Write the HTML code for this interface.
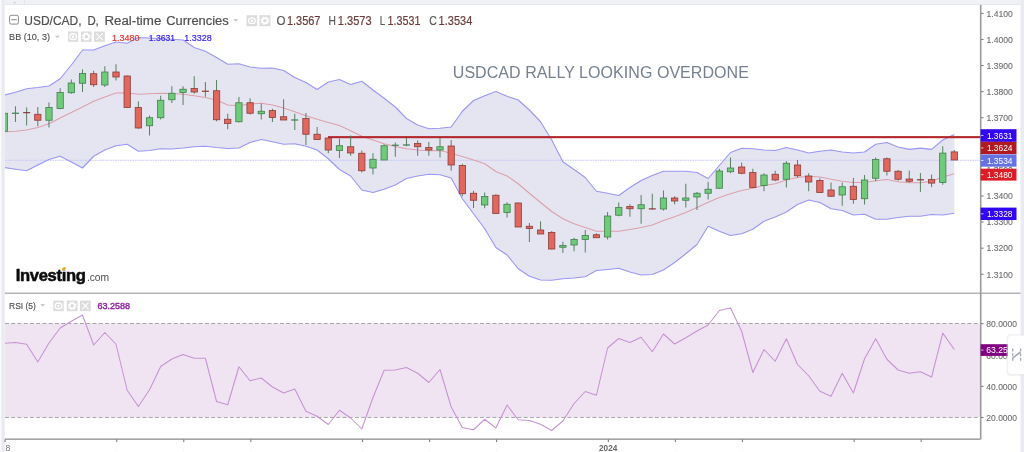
<!DOCTYPE html>
<html><head><meta charset="utf-8"><title>USD/CAD chart</title>
<style>
html,body{margin:0;padding:0;background:#fff;}
body{width:1024px;height:452px;overflow:hidden;position:relative;font-family:"Liberation Sans",sans-serif;}
svg{position:absolute;left:0;top:0;display:block}
text{font-family:"Liberation Sans",sans-serif}
</style></head><body>
<svg width="1024" height="452" viewBox="0 0 1024 452">
<defs>
<clipPath id="pane"><rect x="5" y="5" width="975" height="288"/></clipPath>
<clipPath id="rpane"><rect x="5" y="294" width="975" height="145"/></clipPath>
</defs>
<rect x="0" y="0" width="1024" height="452" fill="#ffffff"/>

<rect x="0" y="0" width="1024" height="4.6" fill="#eff1f6"/>
<rect x="0" y="4.1" width="1024" height="0.8" fill="#e1e4ea"/>
<rect x="1.2" y="0" width="3.6" height="452" fill="#e9ebf1"/>
<rect x="0" y="0" width="1.2" height="452" fill="#fafbfc"/>
<rect x="1020.5" y="0" width="3.5" height="452" fill="#e9ebf1"/>
<path d="M13.2 3.2 L14.6 1.6 L16 3.2 Z" fill="#c9ccd4"/>
<rect x="24.3" y="0" width="0.7" height="4.2" fill="#dfe2e8"/>
<g clip-path="url(#pane)">
<polygon points="4.29,95.00 15.46,92.25 26.63,88.75 37.81,87.50 48.98,86.00 60.15,78.75 71.32,65.00 82.50,50.00 93.67,50.00 104.84,45.75 116.01,42.00 127.19,43.25 138.36,37.50 149.53,38.00 160.70,38.75 171.87,39.25 183.05,40.00 194.22,47.50 205.39,51.25 216.56,57.50 227.74,64.25 238.91,63.75 250.08,67.00 261.25,68.25 272.43,68.00 283.60,70.50 294.77,77.50 305.94,82.50 317.11,89.50 328.29,82.00 339.46,79.50 350.63,84.50 361.80,81.25 372.98,90.00 384.15,98.25 395.32,107.00 406.49,118.50 417.67,125.00 428.84,128.75 440.01,128.25 451.18,127.00 462.35,111.25 473.53,100.50 484.70,95.75 495.87,91.50 507.04,96.25 518.22,100.00 529.39,110.00 540.56,121.75 551.73,140.00 562.90,161.75 574.08,169.50 585.25,177.50 596.42,191.25 607.59,193.25 618.77,195.50 629.94,187.50 641.11,180.50 652.28,175.50 663.46,171.25 674.63,171.25 685.80,171.25 696.97,172.50 708.14,178.50 719.32,165.50 730.49,152.50 741.66,148.25 752.83,148.75 764.01,150.00 775.18,150.50 786.35,147.50 797.52,150.00 808.70,153.00 819.87,151.25 831.04,150.00 842.21,152.00 853.38,153.00 864.56,152.00 875.73,144.25 886.90,142.50 898.07,147.00 909.25,149.40 920.42,148.10 931.59,149.40 942.76,140.00 954.30,134.40 954.30,213.30 942.76,215.00 931.59,214.50 920.42,216.25 909.25,216.25 898.07,217.50 886.90,219.25 875.73,219.25 864.56,214.25 853.38,215.00 842.21,210.50 831.04,208.75 819.87,202.50 808.70,200.00 797.52,204.50 786.35,212.00 775.18,217.00 764.01,221.25 752.83,229.25 741.66,233.75 730.49,235.50 719.32,231.25 708.14,226.25 696.97,244.50 685.80,253.75 674.63,262.50 663.46,270.00 652.28,274.50 641.11,275.00 629.94,272.00 618.77,268.25 607.59,269.50 596.42,270.50 585.25,276.75 574.08,278.00 562.90,278.75 551.73,280.25 540.56,280.00 529.39,276.25 518.22,268.75 507.04,255.00 495.87,247.50 484.70,228.75 473.53,213.75 462.35,198.75 451.18,178.00 440.01,174.75 428.84,174.25 417.67,176.00 406.49,178.50 395.32,185.00 384.15,189.25 372.98,192.50 361.80,190.00 350.63,176.00 339.46,169.50 328.29,158.75 317.11,150.00 305.94,146.25 294.77,143.75 283.60,144.25 272.43,141.75 261.25,139.50 250.08,142.50 238.91,148.00 227.74,148.50 216.56,147.50 205.39,146.25 194.22,146.75 183.05,148.00 171.87,149.00 160.70,148.75 149.53,150.50 138.36,151.25 127.19,144.25 116.01,145.75 104.84,150.00 93.67,156.25 82.50,168.00 71.32,162.00 60.15,156.25 48.98,159.50 37.81,165.00 26.63,170.75 15.46,169.25 4.29,167.50" fill="#e5e5f2"/>
<line x1="5" y1="160.25" x2="980" y2="160.25" stroke="#bfc3f5" stroke-width="0.9" stroke-dasharray="1.7 0.8"/>
<polyline points="4.29,95.00 15.46,92.25 26.63,88.75 37.81,87.50 48.98,86.00 60.15,78.75 71.32,65.00 82.50,50.00 93.67,50.00 104.84,45.75 116.01,42.00 127.19,43.25 138.36,37.50 149.53,38.00 160.70,38.75 171.87,39.25 183.05,40.00 194.22,47.50 205.39,51.25 216.56,57.50 227.74,64.25 238.91,63.75 250.08,67.00 261.25,68.25 272.43,68.00 283.60,70.50 294.77,77.50 305.94,82.50 317.11,89.50 328.29,82.00 339.46,79.50 350.63,84.50 361.80,81.25 372.98,90.00 384.15,98.25 395.32,107.00 406.49,118.50 417.67,125.00 428.84,128.75 440.01,128.25 451.18,127.00 462.35,111.25 473.53,100.50 484.70,95.75 495.87,91.50 507.04,96.25 518.22,100.00 529.39,110.00 540.56,121.75 551.73,140.00 562.90,161.75 574.08,169.50 585.25,177.50 596.42,191.25 607.59,193.25 618.77,195.50 629.94,187.50 641.11,180.50 652.28,175.50 663.46,171.25 674.63,171.25 685.80,171.25 696.97,172.50 708.14,178.50 719.32,165.50 730.49,152.50 741.66,148.25 752.83,148.75 764.01,150.00 775.18,150.50 786.35,147.50 797.52,150.00 808.70,153.00 819.87,151.25 831.04,150.00 842.21,152.00 853.38,153.00 864.56,152.00 875.73,144.25 886.90,142.50 898.07,147.00 909.25,149.40 920.42,148.10 931.59,149.40 942.76,140.00 954.30,134.40" fill="none" stroke="#9a96f3" stroke-width="1.1" stroke-linejoin="round"/>
<polyline points="4.29,167.50 15.46,169.25 26.63,170.75 37.81,165.00 48.98,159.50 60.15,156.25 71.32,162.00 82.50,168.00 93.67,156.25 104.84,150.00 116.01,145.75 127.19,144.25 138.36,151.25 149.53,150.50 160.70,148.75 171.87,149.00 183.05,148.00 194.22,146.75 205.39,146.25 216.56,147.50 227.74,148.50 238.91,148.00 250.08,142.50 261.25,139.50 272.43,141.75 283.60,144.25 294.77,143.75 305.94,146.25 317.11,150.00 328.29,158.75 339.46,169.50 350.63,176.00 361.80,190.00 372.98,192.50 384.15,189.25 395.32,185.00 406.49,178.50 417.67,176.00 428.84,174.25 440.01,174.75 451.18,178.00 462.35,198.75 473.53,213.75 484.70,228.75 495.87,247.50 507.04,255.00 518.22,268.75 529.39,276.25 540.56,280.00 551.73,280.25 562.90,278.75 574.08,278.00 585.25,276.75 596.42,270.50 607.59,269.50 618.77,268.25 629.94,272.00 641.11,275.00 652.28,274.50 663.46,270.00 674.63,262.50 685.80,253.75 696.97,244.50 708.14,226.25 719.32,231.25 730.49,235.50 741.66,233.75 752.83,229.25 764.01,221.25 775.18,217.00 786.35,212.00 797.52,204.50 808.70,200.00 819.87,202.50 831.04,208.75 842.21,210.50 853.38,215.00 864.56,214.25 875.73,219.25 886.90,219.25 898.07,217.50 909.25,216.25 920.42,216.25 931.59,214.50 942.76,215.00 954.30,213.30" fill="none" stroke="#9a96f3" stroke-width="1.1" stroke-linejoin="round"/>
<polyline points="4.29,131.75 15.46,131.25 26.63,130.00 37.81,127.50 48.98,123.75 60.15,118.00 71.32,112.50 82.50,107.00 93.67,101.25 104.84,97.00 116.01,93.00 127.19,92.75 138.36,94.25 149.53,93.75 160.70,93.25 171.87,93.50 183.05,94.25 194.22,95.75 205.39,97.50 216.56,100.00 227.74,105.00 238.91,105.75 250.08,104.00 261.25,103.25 272.43,105.00 283.60,108.00 294.77,111.75 305.94,115.75 317.11,119.25 328.29,122.50 339.46,125.50 350.63,130.75 361.80,136.25 372.98,140.00 384.15,143.75 395.32,146.50 406.49,148.75 417.67,150.00 428.84,150.75 440.01,150.50 451.18,153.25 462.35,156.50 473.53,160.00 484.70,163.75 495.87,171.50 507.04,176.00 518.22,183.75 529.39,193.25 540.56,202.50 551.73,211.50 562.90,218.75 574.08,223.75 585.25,227.50 596.42,231.25 607.59,231.25 618.77,231.25 629.94,229.50 641.11,227.50 652.28,225.00 663.46,220.50 674.63,216.75 685.80,212.50 696.97,207.50 708.14,202.25 719.32,197.50 730.49,193.75 741.66,190.50 752.83,188.25 764.01,185.50 775.18,183.75 786.35,180.00 797.52,177.50 808.70,176.25 819.87,177.00 831.04,179.25 842.21,181.25 853.38,182.50 864.56,182.50 875.73,180.75 886.90,179.50 898.07,181.75 909.25,182.75 920.42,182.75 931.59,181.25 942.76,177.00 954.30,173.75" fill="none" stroke="#dda0ab" stroke-width="1.1" stroke-linejoin="round"/>
<rect x="328" y="136.1" width="652.5" height="2.1" fill="#b3262b"/>
<line x1="4.29" y1="112.00" x2="4.29" y2="132.00" stroke="#4f7a57" stroke-width="0.95"/>
<rect x="1.14" y="113.25" width="6.3" height="18.00" fill="#6fcb7a" stroke="#3f7f4b" stroke-width="0.8"/>
<line x1="15.46" y1="106.25" x2="15.46" y2="122.00" stroke="#4f7a57" stroke-width="0.95"/>
<rect x="11.96" y="112.65" width="7" height="1.2" fill="#3f7f4b"/>
<line x1="26.63" y1="107.50" x2="26.63" y2="125.50" stroke="#4f7a57" stroke-width="0.95"/>
<rect x="23.13" y="112.03" width="7" height="1.2" fill="#8c3b36"/>
<line x1="37.81" y1="107.00" x2="37.81" y2="126.25" stroke="#4f7a57" stroke-width="0.95"/>
<rect x="34.66" y="114.25" width="6.3" height="6.00" fill="#e0685f" stroke="#8c3b36" stroke-width="0.8"/>
<line x1="48.98" y1="102.50" x2="48.98" y2="127.50" stroke="#4f7a57" stroke-width="0.95"/>
<rect x="45.83" y="107.50" width="6.3" height="12.75" fill="#6fcb7a" stroke="#3f7f4b" stroke-width="0.8"/>
<line x1="60.15" y1="88.25" x2="60.15" y2="109.25" stroke="#4f7a57" stroke-width="0.95"/>
<rect x="57.00" y="92.50" width="6.3" height="16.00" fill="#6fcb7a" stroke="#3f7f4b" stroke-width="0.8"/>
<line x1="71.32" y1="79.50" x2="71.32" y2="93.75" stroke="#4f7a57" stroke-width="0.95"/>
<rect x="68.17" y="83.00" width="6.3" height="9.75" fill="#6fcb7a" stroke="#3f7f4b" stroke-width="0.8"/>
<line x1="82.50" y1="69.25" x2="82.50" y2="92.00" stroke="#4f7a57" stroke-width="0.95"/>
<rect x="79.35" y="73.50" width="6.3" height="9.75" fill="#6fcb7a" stroke="#3f7f4b" stroke-width="0.8"/>
<line x1="93.67" y1="70.75" x2="93.67" y2="87.00" stroke="#4f7a57" stroke-width="0.95"/>
<rect x="90.52" y="73.75" width="6.3" height="11.00" fill="#e0685f" stroke="#8c3b36" stroke-width="0.8"/>
<line x1="104.84" y1="66.25" x2="104.84" y2="87.00" stroke="#4f7a57" stroke-width="0.95"/>
<rect x="101.69" y="72.00" width="6.3" height="13.00" fill="#6fcb7a" stroke="#3f7f4b" stroke-width="0.8"/>
<line x1="116.01" y1="64.25" x2="116.01" y2="80.50" stroke="#4f7a57" stroke-width="0.95"/>
<rect x="112.86" y="72.00" width="6.3" height="5.00" fill="#e0685f" stroke="#8c3b36" stroke-width="0.8"/>
<line x1="127.19" y1="75.50" x2="127.19" y2="108.00" stroke="#4f7a57" stroke-width="0.95"/>
<rect x="124.04" y="76.00" width="6.3" height="31.50" fill="#e0685f" stroke="#8c3b36" stroke-width="0.8"/>
<line x1="138.36" y1="101.25" x2="138.36" y2="128.75" stroke="#4f7a57" stroke-width="0.95"/>
<rect x="135.21" y="107.50" width="6.3" height="20.50" fill="#e0685f" stroke="#8c3b36" stroke-width="0.8"/>
<line x1="149.53" y1="115.50" x2="149.53" y2="135.50" stroke="#4f7a57" stroke-width="0.95"/>
<rect x="146.38" y="117.75" width="6.3" height="8.00" fill="#6fcb7a" stroke="#3f7f4b" stroke-width="0.8"/>
<line x1="160.70" y1="95.75" x2="160.70" y2="119.50" stroke="#4f7a57" stroke-width="0.95"/>
<rect x="157.55" y="100.25" width="6.3" height="17.50" fill="#6fcb7a" stroke="#3f7f4b" stroke-width="0.8"/>
<line x1="171.87" y1="86.25" x2="171.87" y2="103.00" stroke="#4f7a57" stroke-width="0.95"/>
<rect x="168.72" y="93.25" width="6.3" height="6.50" fill="#6fcb7a" stroke="#3f7f4b" stroke-width="0.8"/>
<line x1="183.05" y1="86.25" x2="183.05" y2="105.00" stroke="#4f7a57" stroke-width="0.95"/>
<rect x="179.90" y="89.25" width="6.3" height="3.25" fill="#6fcb7a" stroke="#3f7f4b" stroke-width="0.8"/>
<line x1="194.22" y1="76.25" x2="194.22" y2="93.75" stroke="#4f7a57" stroke-width="0.95"/>
<rect x="191.07" y="88.50" width="6.3" height="3.50" fill="#e0685f" stroke="#8c3b36" stroke-width="0.8"/>
<line x1="205.39" y1="82.00" x2="205.39" y2="96.75" stroke="#4f7a57" stroke-width="0.95"/>
<rect x="201.89" y="90.65" width="7" height="1.2" fill="#8c3b36"/>
<line x1="216.56" y1="80.00" x2="216.56" y2="121.25" stroke="#4f7a57" stroke-width="0.95"/>
<rect x="213.41" y="90.75" width="6.3" height="29.00" fill="#e0685f" stroke="#8c3b36" stroke-width="0.8"/>
<line x1="227.74" y1="113.75" x2="227.74" y2="129.25" stroke="#4f7a57" stroke-width="0.95"/>
<rect x="224.59" y="119.25" width="6.3" height="4.25" fill="#e0685f" stroke="#8c3b36" stroke-width="0.8"/>
<line x1="238.91" y1="97.00" x2="238.91" y2="122.50" stroke="#4f7a57" stroke-width="0.95"/>
<rect x="235.76" y="102.75" width="6.3" height="19.00" fill="#6fcb7a" stroke="#3f7f4b" stroke-width="0.8"/>
<line x1="250.08" y1="98.25" x2="250.08" y2="114.50" stroke="#4f7a57" stroke-width="0.95"/>
<rect x="246.93" y="102.75" width="6.3" height="10.50" fill="#e0685f" stroke="#8c3b36" stroke-width="0.8"/>
<line x1="261.25" y1="103.75" x2="261.25" y2="119.50" stroke="#4f7a57" stroke-width="0.95"/>
<rect x="258.10" y="111.25" width="6.3" height="2.50" fill="#6fcb7a" stroke="#3f7f4b" stroke-width="0.8"/>
<line x1="272.43" y1="108.75" x2="272.43" y2="122.00" stroke="#4f7a57" stroke-width="0.95"/>
<rect x="269.28" y="110.50" width="6.3" height="7.00" fill="#e0685f" stroke="#8c3b36" stroke-width="0.8"/>
<line x1="283.60" y1="99.25" x2="283.60" y2="120.00" stroke="#4f7a57" stroke-width="0.95"/>
<rect x="280.45" y="116.75" width="6.3" height="3.25" fill="#e0685f" stroke="#8c3b36" stroke-width="0.8"/>
<line x1="294.77" y1="113.75" x2="294.77" y2="130.00" stroke="#4f7a57" stroke-width="0.95"/>
<rect x="291.27" y="119.40" width="7" height="1.2" fill="#3f7f4b"/>
<line x1="305.94" y1="113.00" x2="305.94" y2="145.00" stroke="#4f7a57" stroke-width="0.95"/>
<rect x="302.79" y="118.50" width="6.3" height="15.75" fill="#e0685f" stroke="#8c3b36" stroke-width="0.8"/>
<line x1="317.11" y1="127.00" x2="317.11" y2="139.50" stroke="#4f7a57" stroke-width="0.95"/>
<rect x="313.96" y="134.25" width="6.3" height="5.25" fill="#e0685f" stroke="#8c3b36" stroke-width="0.8"/>
<line x1="328.29" y1="138.00" x2="328.29" y2="153.25" stroke="#4f7a57" stroke-width="0.95"/>
<rect x="325.14" y="138.00" width="6.3" height="12.00" fill="#e0685f" stroke="#8c3b36" stroke-width="0.8"/>
<line x1="339.46" y1="138.75" x2="339.46" y2="158.00" stroke="#4f7a57" stroke-width="0.95"/>
<rect x="336.31" y="145.75" width="6.3" height="4.75" fill="#6fcb7a" stroke="#3f7f4b" stroke-width="0.8"/>
<line x1="350.63" y1="135.50" x2="350.63" y2="155.75" stroke="#4f7a57" stroke-width="0.95"/>
<rect x="347.48" y="146.75" width="6.3" height="6.25" fill="#e0685f" stroke="#8c3b36" stroke-width="0.8"/>
<line x1="361.80" y1="150.50" x2="361.80" y2="172.50" stroke="#4f7a57" stroke-width="0.95"/>
<rect x="358.65" y="153.25" width="6.3" height="17.50" fill="#e0685f" stroke="#8c3b36" stroke-width="0.8"/>
<line x1="372.98" y1="153.25" x2="372.98" y2="174.50" stroke="#4f7a57" stroke-width="0.95"/>
<rect x="369.83" y="159.25" width="6.3" height="8.75" fill="#6fcb7a" stroke="#3f7f4b" stroke-width="0.8"/>
<line x1="384.15" y1="144.25" x2="384.15" y2="160.00" stroke="#4f7a57" stroke-width="0.95"/>
<rect x="381.00" y="145.75" width="6.3" height="14.25" fill="#6fcb7a" stroke="#3f7f4b" stroke-width="0.8"/>
<line x1="395.32" y1="142.50" x2="395.32" y2="156.75" stroke="#4f7a57" stroke-width="0.95"/>
<rect x="391.82" y="144.65" width="7" height="1.2" fill="#3f7f4b"/>
<line x1="406.49" y1="138.00" x2="406.49" y2="146.25" stroke="#4f7a57" stroke-width="0.95"/>
<rect x="402.99" y="144.40" width="7" height="1.2" fill="#3f7f4b"/>
<line x1="417.67" y1="140.50" x2="417.67" y2="155.75" stroke="#4f7a57" stroke-width="0.95"/>
<rect x="414.52" y="143.50" width="6.3" height="3.25" fill="#e0685f" stroke="#8c3b36" stroke-width="0.8"/>
<line x1="428.84" y1="142.00" x2="428.84" y2="155.75" stroke="#4f7a57" stroke-width="0.95"/>
<rect x="425.69" y="147.50" width="6.3" height="2.50" fill="#e0685f" stroke="#8c3b36" stroke-width="0.8"/>
<line x1="440.01" y1="138.00" x2="440.01" y2="157.50" stroke="#4f7a57" stroke-width="0.95"/>
<rect x="436.86" y="146.75" width="6.3" height="3.25" fill="#6fcb7a" stroke="#3f7f4b" stroke-width="0.8"/>
<line x1="451.18" y1="140.00" x2="451.18" y2="170.75" stroke="#4f7a57" stroke-width="0.95"/>
<rect x="448.03" y="146.00" width="6.3" height="19.00" fill="#e0685f" stroke="#8c3b36" stroke-width="0.8"/>
<line x1="462.35" y1="163.75" x2="462.35" y2="196.25" stroke="#4f7a57" stroke-width="0.95"/>
<rect x="459.20" y="165.50" width="6.3" height="28.25" fill="#e0685f" stroke="#8c3b36" stroke-width="0.8"/>
<line x1="473.53" y1="190.75" x2="473.53" y2="208.00" stroke="#4f7a57" stroke-width="0.95"/>
<rect x="470.38" y="193.25" width="6.3" height="7.00" fill="#e0685f" stroke="#8c3b36" stroke-width="0.8"/>
<line x1="484.70" y1="192.50" x2="484.70" y2="208.25" stroke="#4f7a57" stroke-width="0.95"/>
<rect x="481.55" y="196.50" width="6.3" height="8.50" fill="#6fcb7a" stroke="#3f7f4b" stroke-width="0.8"/>
<line x1="495.87" y1="194.25" x2="495.87" y2="213.50" stroke="#4f7a57" stroke-width="0.95"/>
<rect x="492.72" y="195.25" width="6.3" height="18.25" fill="#e0685f" stroke="#8c3b36" stroke-width="0.8"/>
<line x1="507.04" y1="202.25" x2="507.04" y2="217.50" stroke="#4f7a57" stroke-width="0.95"/>
<rect x="503.89" y="204.25" width="6.3" height="8.25" fill="#6fcb7a" stroke="#3f7f4b" stroke-width="0.8"/>
<line x1="518.22" y1="202.50" x2="518.22" y2="227.00" stroke="#4f7a57" stroke-width="0.95"/>
<rect x="515.07" y="203.00" width="6.3" height="24.00" fill="#e0685f" stroke="#8c3b36" stroke-width="0.8"/>
<line x1="529.39" y1="223.00" x2="529.39" y2="242.00" stroke="#4f7a57" stroke-width="0.95"/>
<rect x="526.24" y="226.25" width="6.3" height="2.25" fill="#e0685f" stroke="#8c3b36" stroke-width="0.8"/>
<line x1="540.56" y1="221.25" x2="540.56" y2="234.00" stroke="#4f7a57" stroke-width="0.95"/>
<rect x="537.41" y="230.00" width="6.3" height="4.00" fill="#e0685f" stroke="#8c3b36" stroke-width="0.8"/>
<line x1="551.73" y1="231.00" x2="551.73" y2="249.50" stroke="#4f7a57" stroke-width="0.95"/>
<rect x="548.58" y="232.50" width="6.3" height="16.50" fill="#e0685f" stroke="#8c3b36" stroke-width="0.8"/>
<line x1="562.90" y1="241.75" x2="562.90" y2="253.00" stroke="#4f7a57" stroke-width="0.95"/>
<rect x="559.75" y="245.50" width="6.3" height="1.75" fill="#6fcb7a" stroke="#3f7f4b" stroke-width="0.8"/>
<line x1="574.08" y1="237.75" x2="574.08" y2="251.25" stroke="#4f7a57" stroke-width="0.95"/>
<rect x="570.93" y="239.50" width="6.3" height="5.50" fill="#6fcb7a" stroke="#3f7f4b" stroke-width="0.8"/>
<line x1="585.25" y1="230.00" x2="585.25" y2="252.50" stroke="#4f7a57" stroke-width="0.95"/>
<rect x="582.10" y="235.50" width="6.3" height="4.00" fill="#6fcb7a" stroke="#3f7f4b" stroke-width="0.8"/>
<line x1="596.42" y1="233.25" x2="596.42" y2="237.75" stroke="#4f7a57" stroke-width="0.95"/>
<rect x="593.27" y="234.75" width="6.3" height="3.00" fill="#e0685f" stroke="#8c3b36" stroke-width="0.8"/>
<line x1="607.59" y1="212.00" x2="607.59" y2="239.50" stroke="#4f7a57" stroke-width="0.95"/>
<rect x="604.44" y="216.00" width="6.3" height="21.00" fill="#6fcb7a" stroke="#3f7f4b" stroke-width="0.8"/>
<line x1="618.77" y1="202.50" x2="618.77" y2="216.25" stroke="#4f7a57" stroke-width="0.95"/>
<rect x="615.62" y="207.50" width="6.3" height="7.75" fill="#6fcb7a" stroke="#3f7f4b" stroke-width="0.8"/>
<line x1="629.94" y1="204.25" x2="629.94" y2="216.75" stroke="#4f7a57" stroke-width="0.95"/>
<rect x="626.79" y="206.50" width="6.3" height="2.25" fill="#e0685f" stroke="#8c3b36" stroke-width="0.8"/>
<line x1="641.11" y1="195.00" x2="641.11" y2="223.75" stroke="#4f7a57" stroke-width="0.95"/>
<rect x="637.96" y="204.75" width="6.3" height="4.00" fill="#6fcb7a" stroke="#3f7f4b" stroke-width="0.8"/>
<line x1="652.28" y1="193.75" x2="652.28" y2="209.50" stroke="#4f7a57" stroke-width="0.95"/>
<rect x="648.78" y="208.28" width="7" height="1.2" fill="#8c3b36"/>
<line x1="663.46" y1="190.50" x2="663.46" y2="210.50" stroke="#4f7a57" stroke-width="0.95"/>
<rect x="660.31" y="198.00" width="6.3" height="11.00" fill="#6fcb7a" stroke="#3f7f4b" stroke-width="0.8"/>
<line x1="674.63" y1="196.25" x2="674.63" y2="204.25" stroke="#4f7a57" stroke-width="0.95"/>
<rect x="671.48" y="198.00" width="6.3" height="3.00" fill="#e0685f" stroke="#8c3b36" stroke-width="0.8"/>
<line x1="685.80" y1="183.75" x2="685.80" y2="207.50" stroke="#4f7a57" stroke-width="0.95"/>
<rect x="682.65" y="198.00" width="6.3" height="2.25" fill="#6fcb7a" stroke="#3f7f4b" stroke-width="0.8"/>
<line x1="696.97" y1="192.00" x2="696.97" y2="210.00" stroke="#4f7a57" stroke-width="0.95"/>
<rect x="693.82" y="193.25" width="6.3" height="3.75" fill="#6fcb7a" stroke="#3f7f4b" stroke-width="0.8"/>
<line x1="708.14" y1="181.75" x2="708.14" y2="199.50" stroke="#4f7a57" stroke-width="0.95"/>
<rect x="704.99" y="189.25" width="6.3" height="4.00" fill="#6fcb7a" stroke="#3f7f4b" stroke-width="0.8"/>
<line x1="719.32" y1="168.75" x2="719.32" y2="188.75" stroke="#4f7a57" stroke-width="0.95"/>
<rect x="716.17" y="171.00" width="6.3" height="17.25" fill="#6fcb7a" stroke="#3f7f4b" stroke-width="0.8"/>
<line x1="730.49" y1="157.50" x2="730.49" y2="173.25" stroke="#4f7a57" stroke-width="0.95"/>
<rect x="727.34" y="168.00" width="6.3" height="3.75" fill="#6fcb7a" stroke="#3f7f4b" stroke-width="0.8"/>
<line x1="741.66" y1="162.50" x2="741.66" y2="174.25" stroke="#4f7a57" stroke-width="0.95"/>
<rect x="738.51" y="167.00" width="6.3" height="6.25" fill="#e0685f" stroke="#8c3b36" stroke-width="0.8"/>
<line x1="752.83" y1="168.75" x2="752.83" y2="188.00" stroke="#4f7a57" stroke-width="0.95"/>
<rect x="749.68" y="172.50" width="6.3" height="15.00" fill="#e0685f" stroke="#8c3b36" stroke-width="0.8"/>
<line x1="764.01" y1="173.25" x2="764.01" y2="191.25" stroke="#4f7a57" stroke-width="0.95"/>
<rect x="760.86" y="175.00" width="6.3" height="10.50" fill="#6fcb7a" stroke="#3f7f4b" stroke-width="0.8"/>
<line x1="775.18" y1="170.75" x2="775.18" y2="181.25" stroke="#4f7a57" stroke-width="0.95"/>
<rect x="772.03" y="174.25" width="6.3" height="5.75" fill="#e0685f" stroke="#8c3b36" stroke-width="0.8"/>
<line x1="786.35" y1="161.25" x2="786.35" y2="187.50" stroke="#4f7a57" stroke-width="0.95"/>
<rect x="783.20" y="163.25" width="6.3" height="16.00" fill="#6fcb7a" stroke="#3f7f4b" stroke-width="0.8"/>
<line x1="797.52" y1="160.00" x2="797.52" y2="177.50" stroke="#4f7a57" stroke-width="0.95"/>
<rect x="794.37" y="165.00" width="6.3" height="10.75" fill="#e0685f" stroke="#8c3b36" stroke-width="0.8"/>
<line x1="808.70" y1="173.25" x2="808.70" y2="191.25" stroke="#4f7a57" stroke-width="0.95"/>
<rect x="805.55" y="176.00" width="6.3" height="6.00" fill="#e0685f" stroke="#8c3b36" stroke-width="0.8"/>
<line x1="819.87" y1="178.25" x2="819.87" y2="192.50" stroke="#4f7a57" stroke-width="0.95"/>
<rect x="816.72" y="180.50" width="6.3" height="12.00" fill="#e0685f" stroke="#8c3b36" stroke-width="0.8"/>
<line x1="831.04" y1="182.50" x2="831.04" y2="196.75" stroke="#4f7a57" stroke-width="0.95"/>
<rect x="827.89" y="190.00" width="6.3" height="6.25" fill="#e0685f" stroke="#8c3b36" stroke-width="0.8"/>
<line x1="842.21" y1="182.50" x2="842.21" y2="205.75" stroke="#4f7a57" stroke-width="0.95"/>
<rect x="839.06" y="186.75" width="6.3" height="8.25" fill="#6fcb7a" stroke="#3f7f4b" stroke-width="0.8"/>
<line x1="853.38" y1="178.00" x2="853.38" y2="203.75" stroke="#4f7a57" stroke-width="0.95"/>
<rect x="850.23" y="186.25" width="6.3" height="13.25" fill="#e0685f" stroke="#8c3b36" stroke-width="0.8"/>
<line x1="864.56" y1="175.00" x2="864.56" y2="204.50" stroke="#4f7a57" stroke-width="0.95"/>
<rect x="861.41" y="180.00" width="6.3" height="18.75" fill="#6fcb7a" stroke="#3f7f4b" stroke-width="0.8"/>
<line x1="875.73" y1="157.50" x2="875.73" y2="181.25" stroke="#4f7a57" stroke-width="0.95"/>
<rect x="872.58" y="159.50" width="6.3" height="18.75" fill="#6fcb7a" stroke="#3f7f4b" stroke-width="0.8"/>
<line x1="886.90" y1="157.50" x2="886.90" y2="175.50" stroke="#4f7a57" stroke-width="0.95"/>
<rect x="883.75" y="158.75" width="6.3" height="12.50" fill="#e0685f" stroke="#8c3b36" stroke-width="0.8"/>
<line x1="898.07" y1="170.00" x2="898.07" y2="180.75" stroke="#4f7a57" stroke-width="0.95"/>
<rect x="894.92" y="171.25" width="6.3" height="8.00" fill="#e0685f" stroke="#8c3b36" stroke-width="0.8"/>
<line x1="909.25" y1="170.60" x2="909.25" y2="182.75" stroke="#4f7a57" stroke-width="0.95"/>
<rect x="906.10" y="179.00" width="6.3" height="2.25" fill="#e0685f" stroke="#8c3b36" stroke-width="0.8"/>
<line x1="920.42" y1="173.10" x2="920.42" y2="191.90" stroke="#4f7a57" stroke-width="0.95"/>
<rect x="916.92" y="179.20" width="7" height="1.2" fill="#8c3b36"/>
<line x1="931.59" y1="174.60" x2="931.59" y2="187.10" stroke="#4f7a57" stroke-width="0.95"/>
<rect x="928.44" y="179.60" width="6.3" height="3.50" fill="#e0685f" stroke="#8c3b36" stroke-width="0.8"/>
<line x1="942.76" y1="146.25" x2="942.76" y2="184.75" stroke="#4f7a57" stroke-width="0.95"/>
<rect x="939.61" y="153.10" width="6.3" height="29.40" fill="#6fcb7a" stroke="#3f7f4b" stroke-width="0.8"/>
<line x1="954.30" y1="150.00" x2="954.30" y2="160.00" stroke="#4f7a57" stroke-width="0.95"/>
<rect x="951.15" y="151.90" width="6.3" height="8.10" fill="#e0685f" stroke="#8c3b36" stroke-width="0.8"/>
</g>
<g clip-path="url(#rpane)">
<rect x="5" y="323.5" width="975" height="93.9" fill="#f0e4f3"/>
<line x1="5" y1="323.5" x2="980" y2="323.5" stroke="#a6a6a6" stroke-width="1" stroke-dasharray="3.9 2.35"/>
<line x1="5" y1="417.45" x2="980" y2="417.45" stroke="#a6a6a6" stroke-width="1" stroke-dasharray="3.9 2.35"/>
<polyline points="4.29,343.25 15.46,342.50 26.63,344.25 37.81,362.00 48.98,343.00 60.15,328.00 71.32,321.25 82.50,315.00 93.67,345.00 104.84,332.50 116.01,344.25 127.19,390.25 138.36,406.50 149.53,389.75 160.70,366.50 171.87,359.00 183.05,354.50 194.22,358.25 205.39,358.25 216.56,401.50 227.74,404.75 238.91,366.75 250.08,380.75 261.25,378.00 272.43,387.00 283.60,393.00 294.77,389.00 305.94,411.25 317.11,416.25 328.29,424.50 339.46,410.25 350.63,418.00 361.80,429.00 372.98,397.50 384.15,370.25 395.32,370.00 406.49,367.50 417.67,373.25 428.84,382.50 440.01,369.50 451.18,407.00 462.35,427.60 473.53,429.75 484.70,419.25 495.87,428.00 507.04,405.00 518.22,419.75 529.39,420.50 540.56,424.25 551.73,430.50 562.90,421.00 574.08,403.50 585.25,391.50 596.42,395.25 607.59,348.00 618.77,338.50 629.94,342.50 641.11,337.25 652.28,351.75 663.46,334.00 674.63,344.00 685.80,337.75 696.97,331.00 708.14,325.00 719.32,310.50 730.49,308.00 741.66,331.25 752.83,372.50 764.01,349.50 775.18,361.25 786.35,338.75 797.52,364.50 808.70,375.75 819.87,391.25 831.04,396.25 842.21,373.25 853.38,393.00 864.56,358.75 875.73,338.75 886.90,359.25 898.07,370.00 909.25,373.25 920.42,371.75 931.59,377.00 942.76,333.10 954.30,349.50" fill="none" stroke="#c792d3" stroke-width="1.05" stroke-linejoin="round"/>
</g>
<rect x="5" y="292.6" width="1015.5" height="1.2" fill="#a3a3a3"/>
<rect x="979.9" y="5" width="1.6" height="434.5" fill="#9a9a9a"/>
<rect x="5" y="438.5" width="975" height="1.3" fill="#8e8e8e"/>
<rect x="4.54" y="439.5" width="1" height="2.6" fill="#757575"/>
<rect x="4.59" y="449.6" width="0.8" height="0.8" fill="#d0d0d0"/>
<rect x="116.26" y="439.5" width="1" height="2.6" fill="#757575"/>
<rect x="116.31" y="449.6" width="0.8" height="0.8" fill="#d0d0d0"/>
<rect x="183.30" y="439.5" width="1" height="2.6" fill="#757575"/>
<rect x="183.35" y="449.6" width="0.8" height="0.8" fill="#d0d0d0"/>
<rect x="250.33" y="439.5" width="1" height="2.6" fill="#757575"/>
<rect x="250.38" y="449.6" width="0.8" height="0.8" fill="#d0d0d0"/>
<rect x="362.05" y="439.5" width="1" height="2.6" fill="#757575"/>
<rect x="362.10" y="449.6" width="0.8" height="0.8" fill="#d0d0d0"/>
<rect x="429.09" y="439.5" width="1" height="2.6" fill="#757575"/>
<rect x="429.14" y="449.6" width="0.8" height="0.8" fill="#d0d0d0"/>
<rect x="496.12" y="439.5" width="1" height="2.6" fill="#757575"/>
<rect x="496.17" y="449.6" width="0.8" height="0.8" fill="#d0d0d0"/>
<rect x="607.84" y="439.5" width="1" height="2.6" fill="#757575"/>
<rect x="607.89" y="449.6" width="0.8" height="0.8" fill="#d0d0d0"/>
<rect x="674.88" y="439.5" width="1" height="2.6" fill="#757575"/>
<rect x="674.93" y="449.6" width="0.8" height="0.8" fill="#d0d0d0"/>
<rect x="741.91" y="439.5" width="1" height="2.6" fill="#757575"/>
<rect x="741.96" y="449.6" width="0.8" height="0.8" fill="#d0d0d0"/>
<rect x="853.63" y="439.5" width="1" height="2.6" fill="#757575"/>
<rect x="853.68" y="449.6" width="0.8" height="0.8" fill="#d0d0d0"/>
<rect x="920.67" y="439.5" width="1" height="2.6" fill="#757575"/>
<rect x="920.72" y="449.6" width="0.8" height="0.8" fill="#d0d0d0"/>
<text x="5.4" y="450.8" font-size="8.6" fill="#777">8</text>
<text x="599" y="450.8" font-size="8.3" font-weight="bold" fill="#666" textLength="18.3" lengthAdjust="spacingAndGlyphs">2024</text>
<rect x="981.2" y="12.85" width="2.3" height="1" fill="#707070"/>
<text x="986.6" y="16.60" font-size="8.6" fill="#707070" stroke="#707070" stroke-width="0.12" textLength="26.3" lengthAdjust="spacingAndGlyphs">1.4100</text>
<rect x="981.2" y="38.94" width="2.3" height="1" fill="#707070"/>
<text x="986.6" y="42.69" font-size="8.6" fill="#707070" stroke="#707070" stroke-width="0.12" textLength="26.3" lengthAdjust="spacingAndGlyphs">1.4000</text>
<rect x="981.2" y="65.03" width="2.3" height="1" fill="#707070"/>
<text x="986.6" y="68.78" font-size="8.6" fill="#707070" stroke="#707070" stroke-width="0.12" textLength="26.3" lengthAdjust="spacingAndGlyphs">1.3900</text>
<rect x="981.2" y="91.12" width="2.3" height="1" fill="#707070"/>
<text x="986.6" y="94.87" font-size="8.6" fill="#707070" stroke="#707070" stroke-width="0.12" textLength="26.3" lengthAdjust="spacingAndGlyphs">1.3800</text>
<rect x="981.2" y="117.21" width="2.3" height="1" fill="#707070"/>
<text x="986.6" y="120.96" font-size="8.6" fill="#707070" stroke="#707070" stroke-width="0.12" textLength="26.3" lengthAdjust="spacingAndGlyphs">1.3700</text>
<rect x="981.2" y="143.30" width="2.3" height="1" fill="#707070"/>
<text x="986.6" y="147.05" font-size="8.6" fill="#707070" stroke="#707070" stroke-width="0.12" textLength="26.3" lengthAdjust="spacingAndGlyphs">1.3600</text>
<rect x="981.2" y="169.39" width="2.3" height="1" fill="#707070"/>
<text x="986.6" y="173.14" font-size="8.6" fill="#707070" stroke="#707070" stroke-width="0.12" textLength="26.3" lengthAdjust="spacingAndGlyphs">1.3500</text>
<rect x="981.2" y="195.48" width="2.3" height="1" fill="#707070"/>
<text x="986.6" y="199.23" font-size="8.6" fill="#707070" stroke="#707070" stroke-width="0.12" textLength="26.3" lengthAdjust="spacingAndGlyphs">1.3400</text>
<rect x="981.2" y="221.57" width="2.3" height="1" fill="#707070"/>
<text x="986.6" y="225.32" font-size="8.6" fill="#707070" stroke="#707070" stroke-width="0.12" textLength="26.3" lengthAdjust="spacingAndGlyphs">1.3300</text>
<rect x="981.2" y="247.66" width="2.3" height="1" fill="#707070"/>
<text x="986.6" y="251.41" font-size="8.6" fill="#707070" stroke="#707070" stroke-width="0.12" textLength="26.3" lengthAdjust="spacingAndGlyphs">1.3200</text>
<rect x="981.2" y="273.75" width="2.3" height="1" fill="#707070"/>
<text x="986.6" y="277.50" font-size="8.6" fill="#707070" stroke="#707070" stroke-width="0.12" textLength="26.3" lengthAdjust="spacingAndGlyphs">1.3100</text>
<rect x="981.2" y="323.15" width="2.3" height="1" fill="#707070"/>
<text x="986.3" y="327.10" font-size="8.6" fill="#707070" stroke="#707070" stroke-width="0.12" textLength="30.8" lengthAdjust="spacingAndGlyphs">80.0000</text>
<rect x="981.2" y="354.55" width="2.3" height="1" fill="#707070"/>
<text x="986.3" y="358.50" font-size="8.6" fill="#707070" stroke="#707070" stroke-width="0.12" textLength="30.8" lengthAdjust="spacingAndGlyphs">60.0000</text>
<rect x="981.2" y="385.85" width="2.3" height="1" fill="#707070"/>
<text x="986.3" y="389.80" font-size="8.6" fill="#707070" stroke="#707070" stroke-width="0.12" textLength="30.8" lengthAdjust="spacingAndGlyphs">40.0000</text>
<rect x="981.2" y="416.95" width="2.3" height="1" fill="#707070"/>
<text x="986.3" y="420.90" font-size="8.6" fill="#707070" stroke="#707070" stroke-width="0.12" textLength="30.8" lengthAdjust="spacingAndGlyphs">20.0000</text>
<rect x="980.6" y="129.2" width="35.9" height="12.60" fill="#3206f5"/>
<rect x="981.2" y="135.05" width="2.2" height="0.9" fill="#ffffff" opacity="0.85"/>
<text x="986.9" y="138.60" font-size="8.6" fill="#ffffff" textLength="25.6" lengthAdjust="spacingAndGlyphs">1.3631</text>
<rect x="980.6" y="141.8" width="35.9" height="12.30" fill="#b01a20"/>
<rect x="981.2" y="147.50" width="2.2" height="0.9" fill="#ffffff" opacity="0.85"/>
<text x="986.9" y="151.05" font-size="8.6" fill="#ffffff" textLength="25.6" lengthAdjust="spacingAndGlyphs">1.3624</text>
<rect x="980.6" y="154.4" width="35.9" height="12.30" fill="#6672e2"/>
<rect x="981.2" y="160.10" width="2.2" height="0.9" fill="#ffffff" opacity="0.85"/>
<text x="986.9" y="163.65" font-size="8.6" fill="#ffffff" textLength="25.6" lengthAdjust="spacingAndGlyphs">1.3534</text>
<rect x="980.6" y="168.7" width="35.9" height="11.90" fill="#dc1d25"/>
<rect x="981.2" y="174.20" width="2.2" height="0.9" fill="#ffffff" opacity="0.85"/>
<text x="986.9" y="177.75" font-size="8.6" fill="#ffffff" textLength="25.6" lengthAdjust="spacingAndGlyphs">1.3480</text>
<rect x="980.6" y="207.6" width="35.9" height="12.40" fill="#3206f5"/>
<rect x="981.2" y="213.35" width="2.2" height="0.9" fill="#ffffff" opacity="0.85"/>
<text x="986.9" y="216.90" font-size="8.6" fill="#ffffff" textLength="25.6" lengthAdjust="spacingAndGlyphs">1.3328</text>
<rect x="980.6" y="344.2" width="27.6" height="11.7" fill="#800080"/>
<rect x="981.2" y="349.6" width="2.2" height="0.9" fill="#ffffff" opacity="0.85"/>
<text x="986.3" y="353.2" font-size="8.6" fill="#ffffff">63.2588</text>
<rect x="1006.6" y="334.2" width="20" height="41.5" rx="4" fill="#e3e5ea" opacity="0.55"/>
<rect x="1008" y="335.5" width="20" height="38.5" rx="3.5" fill="#ffffff"/>
<g stroke="#a0a6b6" stroke-width="1.3" fill="none"><line x1="1012.7" y1="348.6" x2="1012.7" y2="361.6" stroke-dasharray="3 1.6"/><line x1="1020.6" y1="348.6" x2="1020.6" y2="361.6" stroke-dasharray="3 1.6"/><path d="M1012.7 358.2 L1020.6 351.8" stroke-width="1.5"/></g>
<rect x="9.6" y="15.3" width="8.8" height="8.8" rx="1.6" fill="none" stroke="#8a8a8a" stroke-width="1"/>
<rect x="11.2" y="19.2" width="5.6" height="1" fill="#8a8a8a"/>
<text y="24.5" font-size="12.3" fill="#505050" stroke="#505050" stroke-width="0.2"><tspan x="24.3" textLength="57.3" lengthAdjust="spacingAndGlyphs">USD/CAD,</tspan> <tspan x="87.4" textLength="11.4" lengthAdjust="spacingAndGlyphs">D,</tspan> <tspan x="104.4" textLength="56.9" lengthAdjust="spacingAndGlyphs">Real-time</tspan> <tspan x="166.3" textLength="62.4" lengthAdjust="spacingAndGlyphs">Currencies</tspan></text>
<path d="M233.2 19.2 L238.2 19.2 L235.7 21.4 Z" fill="#bdbdbd"/>
<rect x="246.5" y="15.2" width="10.7" height="11" fill="#dcdcdc"/>
<ellipse cx="251.85" cy="20.7" rx="3.4" ry="2.9" fill="none" stroke="#fff" stroke-width="1.3"/><circle cx="251.85" cy="20.7" r="1.25" fill="#fff"/>
<rect x="259.4" y="15.2" width="11" height="11" fill="#dcdcdc"/>
<circle cx="264.9" cy="20.7" r="2.6" fill="none" stroke="#fff" stroke-width="1.6"/><circle cx="264.9" cy="20.7" r="3.6" fill="none" stroke="#fff" stroke-width="1.5" stroke-dasharray="1.4 1.43"/>
<text x="276.6" y="24.6" font-size="12.3" fill="#5a5a5a" stroke="#5a5a5a" stroke-width="0.2" textLength="9.0" lengthAdjust="spacingAndGlyphs">O</text>
<text x="286.9" y="24.6" font-size="12.3" fill="#6b3c3c" stroke="#6b3c3c" stroke-width="0.2" textLength="33.6" lengthAdjust="spacingAndGlyphs">1.3567</text>
<text x="328.4" y="24.6" font-size="12.3" fill="#5a5a5a" stroke="#5a5a5a" stroke-width="0.2" textLength="7.4" lengthAdjust="spacingAndGlyphs">H</text>
<text x="337.8" y="24.6" font-size="12.3" fill="#6b3c3c" stroke="#6b3c3c" stroke-width="0.2" textLength="33.8" lengthAdjust="spacingAndGlyphs">1.3573</text>
<text x="379.8" y="24.6" font-size="12.3" fill="#5a5a5a" stroke="#5a5a5a" stroke-width="0.2" textLength="5.4" lengthAdjust="spacingAndGlyphs">L</text>
<text x="387.4" y="24.6" font-size="12.3" fill="#6b3c3c" stroke="#6b3c3c" stroke-width="0.2" textLength="33.0" lengthAdjust="spacingAndGlyphs">1.3531</text>
<text x="429.3" y="24.6" font-size="12.3" fill="#5a5a5a" stroke="#5a5a5a" stroke-width="0.2" textLength="7.6" lengthAdjust="spacingAndGlyphs">C</text>
<text x="438.6" y="24.6" font-size="12.3" fill="#6b3c3c" stroke="#6b3c3c" stroke-width="0.2" textLength="33.7" lengthAdjust="spacingAndGlyphs">1.3534</text>
<text x="9.1" y="40.1" font-size="9.3" fill="#505050" stroke="#505050" stroke-width="0.15" textLength="40.9" lengthAdjust="spacingAndGlyphs">BB (10, 3)</text>
<path d="M55 35.7 L59.7 35.7 L57.35 37.8 Z" fill="#bdbdbd"/>
<rect x="68" y="31.5" width="10.2" height="10.3" fill="#dcdcdc"/>
<ellipse cx="73.1" cy="36.65" rx="3.4" ry="2.9" fill="none" stroke="#fff" stroke-width="1.3"/><circle cx="73.1" cy="36.65" r="1.25" fill="#fff"/>
<rect x="80.9" y="31.5" width="10.6" height="10.3" fill="#dcdcdc"/>
<circle cx="86.2" cy="36.65" r="2.6" fill="none" stroke="#fff" stroke-width="1.6"/><circle cx="86.2" cy="36.65" r="3.6" fill="none" stroke="#fff" stroke-width="1.5" stroke-dasharray="1.4 1.43"/>
<rect x="94.1" y="31.5" width="10.8" height="10.3" fill="#dcdcdc"/>
<path d="M96.3 33.449999999999996 L102.7 39.85 M102.7 33.449999999999996 L96.3 39.85" stroke="#fff" stroke-width="1.1" fill="none"/>
<text x="112.1" y="40.7" font-size="9.4" fill="#e23232" stroke="#e23232" stroke-width="0.2" textLength="27.4" lengthAdjust="spacingAndGlyphs">1.3480</text>
<text x="148.8" y="40.7" font-size="9.4" fill="#3622f4" stroke="#3622f4" stroke-width="0.2" textLength="26.3" lengthAdjust="spacingAndGlyphs">1.3631</text>
<text x="184.3" y="40.7" font-size="9.4" fill="#3622f4" stroke="#3622f4" stroke-width="0.2" textLength="27.4" lengthAdjust="spacingAndGlyphs">1.3328</text>
<text x="9.1" y="309.3" font-size="9.5" fill="#505050" stroke="#505050" stroke-width="0.15" textLength="26.8" lengthAdjust="spacingAndGlyphs">RSI (5)</text>
<path d="M40.3 304.3 L45 304.3 L42.65 306.4 Z" fill="#bdbdbd"/>
<rect x="53.3" y="300.6" width="10.4" height="10.6" fill="#dcdcdc"/>
<ellipse cx="58.5" cy="305.90000000000003" rx="3.4" ry="2.9" fill="none" stroke="#fff" stroke-width="1.3"/><circle cx="58.5" cy="305.90000000000003" r="1.25" fill="#fff"/>
<rect x="66.8" y="300.6" width="10.7" height="10.6" fill="#dcdcdc"/>
<circle cx="72.14999999999999" cy="305.90000000000003" r="2.6" fill="none" stroke="#fff" stroke-width="1.6"/><circle cx="72.14999999999999" cy="305.90000000000003" r="3.6" fill="none" stroke="#fff" stroke-width="1.5" stroke-dasharray="1.4 1.43"/>
<rect x="80" y="300.6" width="10.7" height="10.6" fill="#dcdcdc"/>
<path d="M82.14999999999999 302.70000000000005 L88.55 309.1 M88.55 302.70000000000005 L82.14999999999999 309.1" stroke="#fff" stroke-width="1.1" fill="none"/>
<text x="97.5" y="309.4" font-size="9.6" fill="#8e2a9e" stroke="#8e2a9e" stroke-width="0.45" textLength="32.6" lengthAdjust="spacingAndGlyphs">63.2588</text>
<text x="452.8" y="77.6" font-size="16" fill="#76808f" textLength="296" lengthAdjust="spacing">USDCAD RALLY LOOKING OVERDONE</text>
<text x="15.7" y="280.6" font-size="16.6" font-weight="bold" fill="#0c0c0c" stroke="#0c0c0c" stroke-width="0.55" textLength="70.2" lengthAdjust="spacing">Investing</text>
<rect x="61.6" y="266.6" width="4.6" height="4.1" fill="#ffffff"/>
<ellipse cx="63.9" cy="268.8" rx="2.1" ry="1.45" transform="rotate(-32 63.9 268.8)" fill="#f2a327"/>
<text x="86.9" y="280.6" font-size="10.3" fill="#4d4d4d" textLength="22.1" lengthAdjust="spacing">.com</text>
</svg>
</body></html>
